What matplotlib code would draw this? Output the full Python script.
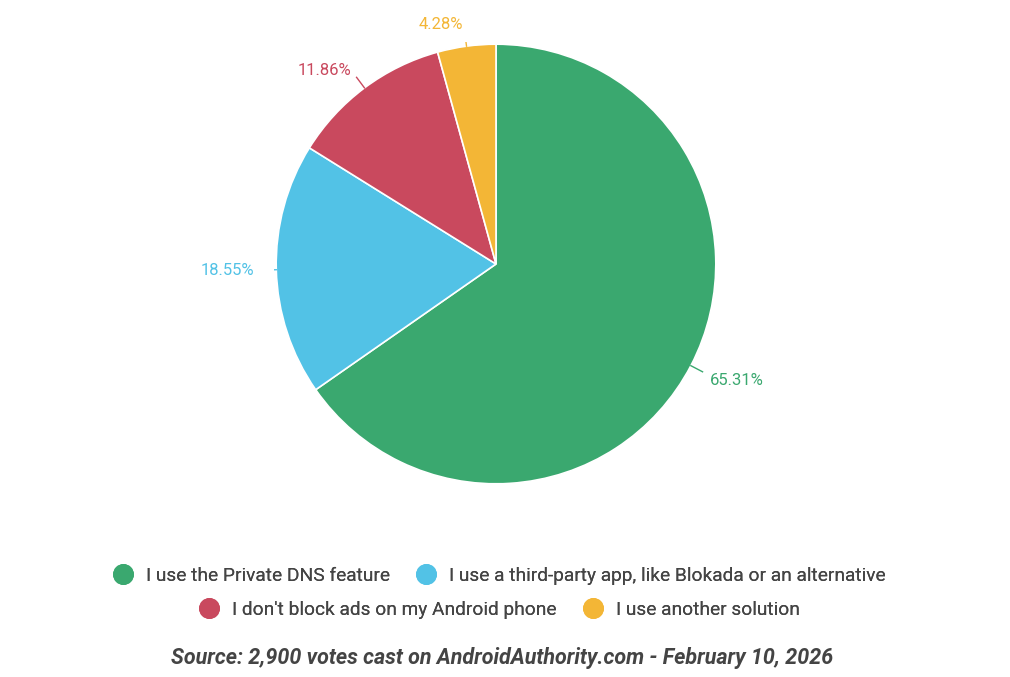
import numpy as np
import matplotlib.pyplot as plt
from matplotlib.lines import Line2D

plt.rcParams["font.family"] = ["Roboto", "DejaVu Sans"]

labels = ["I use the Private DNS feature",
          "I use a third-party app, like Blokada or an alternative",
          "I don't block ads on my Android phone",
          "I use another solution"]
values = [65.31, 18.55, 11.86, 4.28]
colors = ["#3aa86f", "#52c2e6", "#c9495e", "#f3b636"]

fig = plt.figure(figsize=(10.1, 6.77), dpi=100)
ax = fig.add_axes([(496 - 222) / 1010, 1 - (264 + 222) / 677, 444 / 1010, 444 / 677])
wedges, _ = ax.pie(values, colors=colors, startangle=90, counterclock=False,
                   wedgeprops=dict(edgecolor="white", linewidth=1.2))
ax.set_xlim(-1.01, 1.01)
ax.set_ylim(-1.01, 1.01)
ax.set_aspect("equal")

for w, v, c in zip(wedges, values, colors):
    ang = np.deg2rad((w.theta1 + w.theta2) / 2)
    x, y = np.cos(ang), np.sin(ang)
    ax.plot([x * 1.0, x * 1.06], [y * 1.0, y * 1.06], color=c, lw=1)
    ha = "left" if x > 0.05 else ("right" if x < -0.05 else "center")
    yo = -0.02 if y < -0.2 else 0
    ax.text(x * 1.1, y * 1.1 + yo, "%.2f%%" % v, color=c, fontsize=12,
            ha=ha, va="center")

def legend_row(items, y):
    handles = [Line2D([], [], marker="o", ls="", markersize=14,
                      markerfacecolor=colors[i], markeredgecolor=colors[i]) for i in items]
    leg = fig.legend(handles, [labels[i] for i in items], loc="center",
                     bbox_to_anchor=(0.49, y), ncol=len(items), frameon=False,
                     fontsize=13.8, handletextpad=0.2, columnspacing=0.9,
                     labelcolor="#444444")
    fig.add_artist(leg)

legend_row([0, 1], 1 - 576 / 677)
legend_row([2, 3], 1 - 610 / 677)

fig.text(0.497, 1 - 658 / 677, "Source: 2,900 votes cast on AndroidAuthority.com - February 10, 2026",
         ha="center", va="center", fontsize=15.5, fontweight="bold", style="italic",
         color="#444444")

fig.savefig("out.png", dpi=100, facecolor="white")
